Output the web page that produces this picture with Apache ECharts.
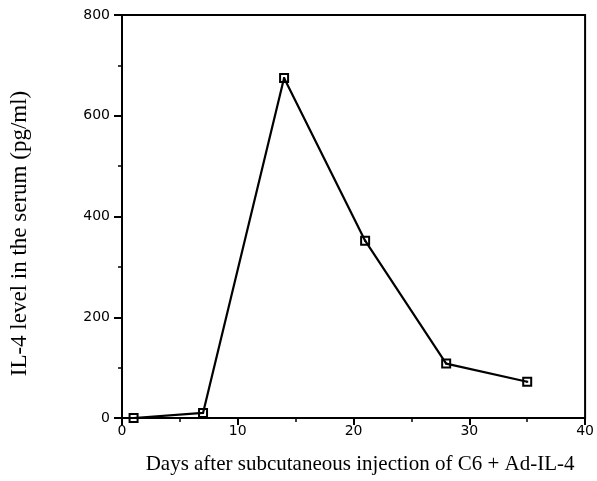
<!DOCTYPE html>
<html>
<head>
<meta charset="utf-8">
<script src="https://cdn.jsdelivr.net/npm/echarts@6/dist/echarts.min.js"></script>
<style>
  html, body { margin: 0; padding: 0; background: #fff; }
  #main { width: 597px; height: 481px; }
</style>
</head>
<body>
<div id="main"></div>
<script>
// values
var days = [1, 7, 14, 21, 28, 35];
var il4 = [0, 10, 675, 352, 108, 72];

// hollow square with a centre dot
var markSymbol = 'path://M0,0H10V10H0Z M2,2V8H8V2Z M4,4H6V6H4Z';

var myChart = echarts.init(document.getElementById('main'));
myChart.setOption({
    animation: false,
    grid: {
        left: 120,
        right: 9,
        top: 15,
        bottom: 63,
        show: true,
        borderColor: '#000',
        borderWidth: 2
    },
    xAxis: {
        type: 'value',
        min: 0,
        max: 40,
        interval: 10,
        name: 'Days after subcutaneous injection of C6 + Ad-IL-4',
        nameLocation: 'middle',
        nameGap: 36,
        nameTextStyle: { fontFamily: 'Liberation Serif', fontSize: 21, color: '#000', padding: [0, 0, 0, 13] },
        axisLine: { lineStyle: { color: '#000', width: 2 } },
        axisTick: { length: 7, lineStyle: { color: '#000', width: 2 } },
        minorTick: { show: true, splitNumber: 2, length: 4, lineStyle: { color: '#000', width: 1.5 } },
        axisLabel: { fontFamily: 'DejaVu Sans', fontSize: 14, color: '#000', margin: 6 },
        splitLine: { show: false }
    },
    yAxis: {
        type: 'value',
        min: 0,
        max: 800,
        interval: 200,
        name: 'IL-4 level in the serum (pg/ml)',
        nameLocation: 'middle',
        nameGap: 91,
        nameTextStyle: { fontFamily: 'Liberation Serif', fontSize: 23, color: '#000', padding: [0, 34, 0, 0] },
        axisLine: { lineStyle: { color: '#000', width: 2 } },
        axisTick: { length: 8, lineStyle: { color: '#000', width: 2 } },
        minorTick: { show: true, splitNumber: 2, length: 4, lineStyle: { color: '#000', width: 1.5 } },
        axisLabel: { fontFamily: 'DejaVu Sans', fontSize: 14, color: '#000', margin: 12 },
        splitLine: { show: false }
    },
    series: [
        {
            type: 'line',
            data: days.map(function (d, i) { return [d, il4[i]]; }),
            symbol: markSymbol,
            symbolSize: 10,
            showAllSymbol: true,
            lineStyle: { color: '#000', width: 2.2 },
            itemStyle: { color: '#000' }
        }
    ]
});
</script>
</body>
</html>
